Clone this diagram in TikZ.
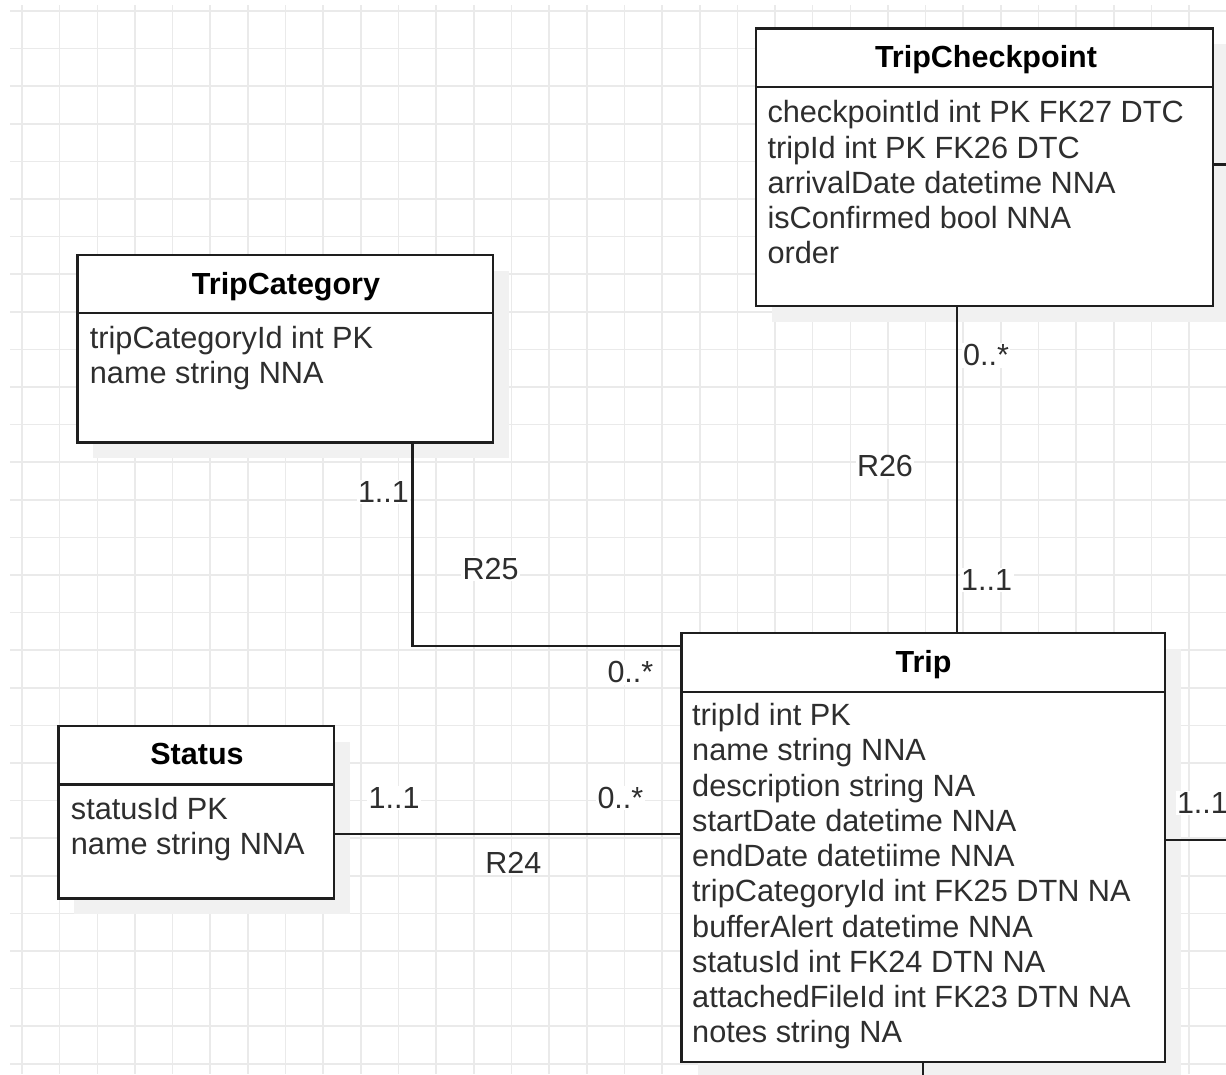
\documentclass[tikz,border=0pt]{standalone}
\usepackage{fontspec}
\setmainfont{Liberation Sans}
\usetikzlibrary{shadows}
\definecolor{gridc}{HTML}{EAEAEA}
\definecolor{ink}{HTML}{1E1E1E}
\definecolor{txt}{HTML}{2E2E2E}
\definecolor{shad}{HTML}{F1F1F1}
\begin{document}
\begin{tikzpicture}[x=1pt,y=-1pt,
  entity/.style={draw=ink, line width=2.4pt, fill=white, rectangle, inner sep=0pt, outer sep=0pt,
    general shadow={fill=shad, shadow xshift=16pt, shadow yshift=-16pt}},
  divline/.style={draw=ink, line width=2.4pt},
  conn/.style={draw=ink, line width=2.4pt},
  title/.style={font=\fontsize{30.5}{36}\selectfont\bfseries, text=black, anchor=base, inner sep=0pt},
  attr/.style={font=\fontsize{30.7}{36}\selectfont, text=txt, anchor=base west, inner sep=0pt},
  lbl/.style={font=\fontsize{30.5}{36}\selectfont, text=txt, anchor=base west, fill=white, inner sep=1.5pt}]
\useasboundingbox[fill=white] (0,0) rectangle (1226,1074);
% grid
\foreach \i in {0,...,31} \draw[gridc, line width=1.6pt] (22+37.65*\i,5) -- (22+37.65*\i,1074);
\foreach \j in {0,...,28} \draw[gridc, line width=1.6pt] (10,11+37.6*\j) -- (1226,11+37.6*\j);

% entities
\node[entity, minimum width=457pt, minimum height=277.7pt] (tcp) at (984.5,167.2) {};
\node[entity, minimum width=415.4pt, minimum height=187.3pt] (tcat) at (285,348.7) {};
\node[entity, minimum width=275.7pt, minimum height=172.6pt] (status) at (196.2,812) {};
\node[entity, minimum width=483.1pt, minimum height=428.7pt] (trip) at (923.2,847.4) {};

% dividers
\draw[divline] ([yshift=-58.4pt]tcp.north west) -- ([yshift=-58.4pt]tcp.north east);
\draw[divline] ([yshift=-57.7pt]tcat.north west) -- ([yshift=-57.7pt]tcat.north east);
\draw[divline] ([yshift=-58.6pt]status.north west) -- ([yshift=-58.6pt]status.north east);
\draw[divline] ([yshift=-59pt]trip.north west) -- ([yshift=-59pt]trip.north east);

% titles
\node[title] (tcp-t) at (986,67.3) {TripCheckpoint};
\node[title] (tcat-t) at (286,294.3) {TripCategory};
\node[title] (status-t) at (197,764.8) {Status};
\node[title] (trip-t) at (923.5,672.5) {Trip};

% attributes
\foreach \t [count=\i] in {checkpointId int PK FK27 DTC, tripId int PK FK26 DTC, arrivalDate datetime NNA, isConfirmed bool NNA, order}
  \node[attr] (tcp-a\i) at (767.3,122.7+35.3*\i-35.3) {\t};
\foreach \t [count=\i] in {tripCategoryId int PK, name string NNA}
  \node[attr] (tcat-a\i) at (89.7,348.3+35*\i-35) {\t};
\foreach \t [count=\i] in {statusId PK, name string NNA}
  \node[attr] (status-a\i) at (70.7,819.3+34.8*\i-34.8) {\t};
\foreach \t [count=\i] in {tripId int PK, name string NNA, description string NA, startDate datetime NNA, endDate datetiime NNA, tripCategoryId int FK25 DTN NA, bufferAlert datetime NNA, statusId int FK24 DTN NA, attachedFileId int FK23 DTN NA, notes string NA}
  \node[attr] (trip-a\i) at (692,725.5+35.25*\i-35.25) {\t};

% connector coordinates
\coordinate (r26x) at (956.7,0);
\coordinate (r25x) at (412.3,0);
\coordinate (r25y) at (0,645.7);
\coordinate (r24y) at (0,834);
\coordinate (edge1) at (1230,164.3);
\coordinate (edge2) at (1230,840);
\coordinate (edge3) at (923,1078);

% connectors
\draw[conn] (tcp.south -| r26x) -- (trip.north -| r26x);
\draw[conn] (tcat.south -| r25x) |- (trip.west |- r25y);
\draw[conn] (status.east |- r24y) -- (trip.west |- r24y);
\draw[conn] (tcp.east |- edge1) -- (edge1);
\draw[conn] (trip.east |- edge2) -- (edge2);
\draw[conn] (trip.south -| edge3) -- (edge3);

% labels
\node[lbl] (l26a) at (961.5,365.7) {0..*};
\node[lbl] (l26) at (855.3,476.7) {R26};
\node[lbl] (l26b) at (959.5,590) {1..1};
\node[lbl] (l25a) at (356.3,502.7) {1..1};
\node[lbl] (l25) at (461,579) {R25};
\node[lbl] (l25b) at (605.8,682.7) {0..*};
\node[lbl] (l24a) at (367,808.3) {1..1};
\node[lbl] (l24b) at (595.8,808.3) {0..*};
\node[lbl] (l24) at (483.7,873.3) {R24};
\node[lbl] (lr) at (1175.3,813.3) {1..1};
\end{tikzpicture}
\end{document}
